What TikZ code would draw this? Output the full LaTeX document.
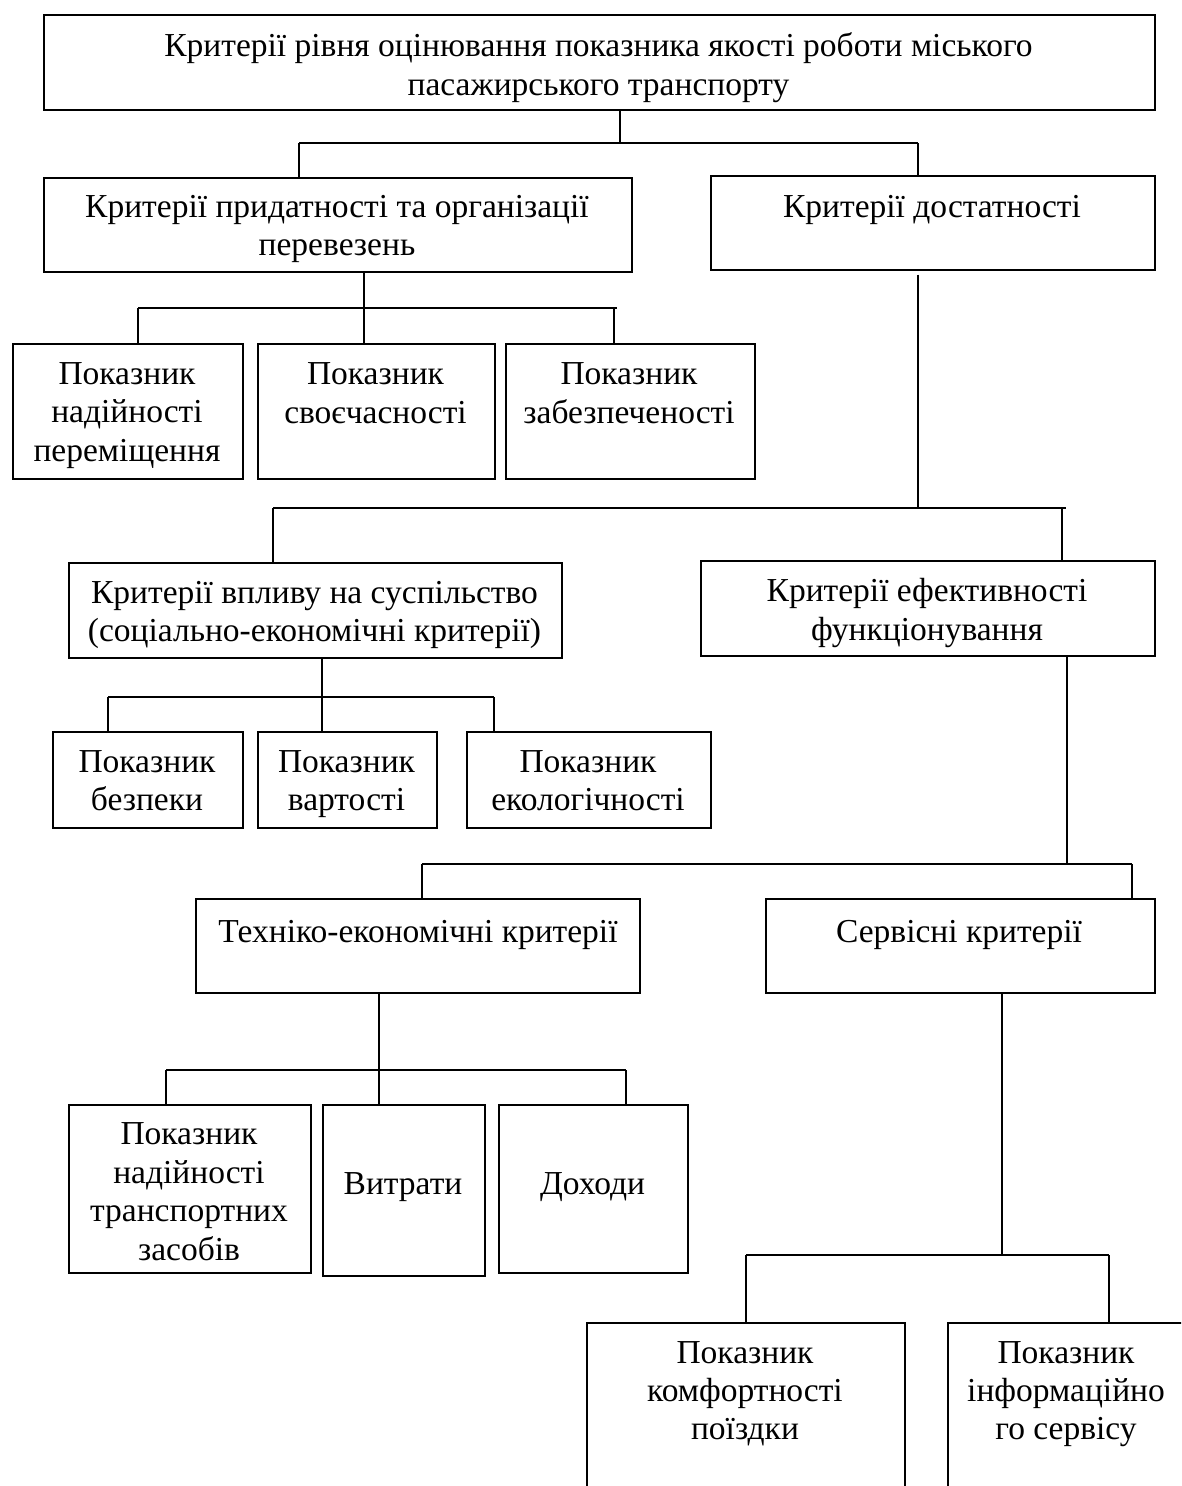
\documentclass[tikz,border=0pt]{standalone}
\usepackage{fontspec}
\setmainfont{Liberation Serif}
\begin{document}
\begin{tikzpicture}[x=1pt,y=-1pt,
  box/.style={draw, line width=1.6pt, inner sep=0pt, anchor=north west},
  txt/.style={align=center, font=\fontsize{33.5}{38.4}\selectfont, inner sep=0pt, yshift=-2.5pt,
    execute at begin node={\rule{0pt}{26pt}}, execute at end node={\rule[-9pt]{0pt}{9pt}}},
  conn/.style={line width=1.2pt},
  bus/.style={line width=2pt}]
\useasboundingbox (0,0) rectangle (1181,1486);
\clip (0,0) rectangle (1181,1486);
% boxes
\node[box, minimum width=1111pt, minimum height=95pt] (b0) at (43,14) {};
\node[box, minimum width=588pt, minimum height=94pt] (bA) at (43,177) {};
\node[box, minimum width=444pt, minimum height=94pt] (bB) at (710,175) {};
\node[box, minimum width=230pt, minimum height=135pt] (bP1) at (12,343) {};
\node[box, minimum width=237pt, minimum height=135pt] (bP2) at (257,343) {};
\node[box, minimum width=249pt, minimum height=135pt] (bP3) at (505,343) {};
\node[box, minimum width=493pt, minimum height=95pt] (bC) at (68,562) {};
\node[box, minimum width=454pt, minimum height=95pt] (bD) at (700,560) {};
\node[box, minimum width=190pt, minimum height=96pt] (bQ1) at (52,731) {};
\node[box, minimum width=179pt, minimum height=96pt] (bQ2) at (257,731) {};
\node[box, minimum width=244pt, minimum height=96pt] (bQ3) at (466,731) {};
\node[box, minimum width=444pt, minimum height=94pt] (bE) at (195,898) {};
\node[box, minimum width=389pt, minimum height=94pt] (bF) at (765,898) {};
\node[box, minimum width=242pt, minimum height=168pt] (bR1) at (68,1104) {};
\node[box, minimum width=162pt, minimum height=171pt] (bR2) at (322,1104) {};
\node[box, minimum width=189pt, minimum height=168pt] (bR3) at (498,1104) {};
\node[box, minimum width=318pt, minimum height=200pt] (bS1) at (586,1322) {};
\node[box, minimum width=238pt, minimum height=200pt] (bS2) at (947,1322) {};
% texts
\node[txt] (t0) at (598.5,66) {Критерії рівня оцінювання показника якості роботи міського\\пасажирського транспорту};
\node[txt] (tA) at (337,227.5) {Критерії придатності та організації\\перевезень};
\node[txt] (tB) at (932,206.5) {Критерії достатності};
\node[txt] (tP1) at (127,414) {Показник\\надійності\\переміщення};
\node[txt] (tP2) at (375.5,395) {Показник\\своєчасності};
\node[txt] (tP3) at (629,395) {Показник\\забезпеченості};
\node[txt] (tC) at (314.5,613.5) {Критерії впливу на суспільство\\(соціально-економічні критерії)};
\node[txt] (tD) at (927,611.5) {Критерії ефективності\\функціонування};
\node[txt] (tQ1) at (147,782.5) {Показник\\безпеки};
\node[txt] (tQ2) at (346.5,782.5) {Показник\\вартості};
\node[txt] (tQ3) at (588,782.5) {Показник\\екологічності};
\node[txt] (tE) at (418,931.5) {Техніко-економічні критерії};
\node[txt] (tF) at (959,931.5) {Сервісні критерії};
\node[txt] (tR1) at (189,1193.5) {Показник\\надійності\\транспортних\\засобів};
\node[txt] (tR2) at (403,1183.5) {Витрати};
\node[txt] (tR3) at (592.5,1183.5) {Доходи};
\node[txt] (tS1) at (745,1392.5) {Показник\\комфортності\\поїздки};
\node[txt] (tS2) at (1066,1392.5) {Показник\\інформаційно\\го сервісу};
% level 1
\coordinate (j1) at (620,143); \coordinate (j1l) at (299,143); \coordinate (j1r) at (918,143);
\draw[conn] (b0.south -| j1) -- (j1);
\draw[bus] (j1l) -- (j1r);
\draw[conn] (j1l) -- (j1l |- bA.north);
\draw[conn] (j1r) -- (j1r |- bB.north);
% level P
\coordinate (j2) at (364,308); \coordinate (j2l) at (138,308); \coordinate (j2r) at (617,308); \coordinate (j2d) at (614,308);
\draw[conn] (bA.south -| j2) -- (j2 |- bP2.north);
\draw[bus] (j2l) -- (j2r);
\draw[conn] (j2l) -- (j2l |- bP1.north);
\draw[conn] (j2d) -- (j2d |- bP3.north);
% level C/D
\coordinate (j3) at (918,508); \coordinate (j3l) at (273,508); \coordinate (j3r) at (1066,508); \coordinate (j3d) at (1062,508);
\draw[conn, shorten <=4pt] (bB.south -| j3) -- (j3);
\draw[bus] (j3l) -- (j3r);
\draw[conn] (j3l) -- (j3l |- bC.north);
\draw[conn] (j3d) -- (j3d |- bD.north);
% level Q
\coordinate (j4) at (322,697); \coordinate (j4l) at (108,697); \coordinate (j4r) at (494,697);
\draw[conn] (bC.south -| j4) -- (j4 |- bQ2.north);
\draw[bus] (j4l) -- (j4r);
\draw[conn] (j4l) -- (j4l |- bQ1.north);
\draw[conn] (j4r) -- (j4r |- bQ3.north);
% level E/F
\coordinate (j5) at (1067,864); \coordinate (j5l) at (422,864); \coordinate (j5r) at (1132,864);
\draw[conn] (bD.south -| j5) -- (j5);
\draw[bus] (j5l) -- (j5r);
\draw[conn] (j5l) -- (j5l |- bE.north);
\draw[conn] (j5r) -- (j5r |- bF.north);
% level R
\coordinate (j6) at (379,1070); \coordinate (j6l) at (166,1070); \coordinate (j6r) at (626,1070);
\draw[conn] (bE.south -| j6) -- (j6 |- bR2.north);
\draw[bus] (j6l) -- (j6r);
\draw[conn] (j6l) -- (j6l |- bR1.north);
\draw[conn] (j6r) -- (j6r |- bR3.north);
% level S
\coordinate (j7) at (1002,1255); \coordinate (j7l) at (746,1255); \coordinate (j7r) at (1109,1255);
\draw[conn] (bF.south -| j7) -- (j7);
\draw[bus] (j7l) -- (j7r);
\draw[conn] (j7l) -- (j7l |- bS1.north);
\draw[conn] (j7r) -- (j7r |- bS2.north);
\end{tikzpicture}
\end{document}
